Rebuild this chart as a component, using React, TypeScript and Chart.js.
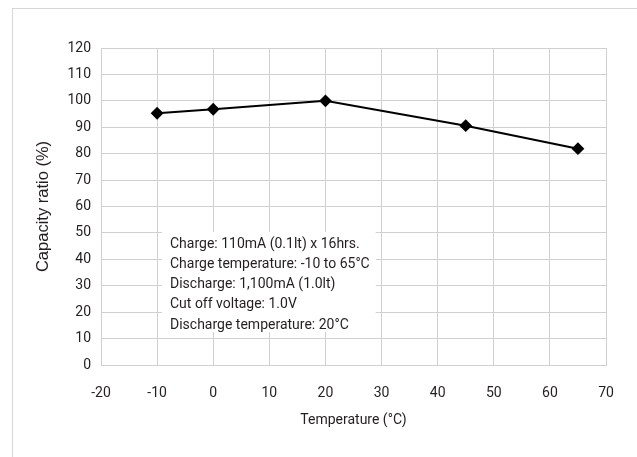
import React, { useEffect, useRef } from "react";
import { Chart, registerables } from "chart.js";

Chart.register(...registerables);

const temperatures = [-10, 0, 20, 45, 65];
const capacityRatio = [95.3, 96.8, 100, 90.6, 81.9];
const xTicks = [-20, -10, 0, 10, 20, 30, 40, 50, 60, 70];
const yTicks = [0, 10, 20, 30, 40, 50, 60, 70, 80, 90, 100, 110, 120];
const noteLines = [
  "Charge: 110mA (0.1lt) x 16hrs.",
  "Charge temperature: -10 to 65°C",
  "Discharge: 1,100mA (1.0lt)",
  "Cut off voltage: 1.0V",
  "Discharge temperature: 20°C",
];
const xTitle = "Temperature (°C)";
const yTitle = "Capacity ratio (%)";

const GRID = "#d0d0d0";
const TEXT = "#231f20";

const notePlugin = {
  id: "notePlugin",
  beforeDatasetsDraw(chart: any) {
    const ctx = chart.ctx;
    ctx.save();
    ctx.font = "14px Roboto";
    let w = 0;
    for (const l of noteLines) w = Math.max(w, ctx.measureText(l).width);
    const x0 = 162;
    const y0 = 232;
    ctx.fillStyle = "#ffffff";
    ctx.fillRect(x0, y0, w + 14, 100);
    ctx.fillStyle = TEXT;
    ctx.textBaseline = "middle";
    ctx.textAlign = "left";
    noteLines.forEach((l, i) => {
      ctx.fillText(l, 170, 244 + i * 20.3);
    });
    ctx.restore();
  },
};

export default function App() {
  const ref = useRef<HTMLCanvasElement | null>(null);
  useEffect(() => {
    if (!ref.current) return;
    const chart = new Chart(ref.current, {
      type: "scatter",
      data: {
        datasets: [
          {
            data: temperatures.map((t, i) => ({ x: t, y: capacityRatio[i] })),
            showLine: true,
            borderColor: "#000000",
            backgroundColor: "#000000",
            borderWidth: 2,
            pointStyle: "rectRot",
            pointRadius: 5,
            pointHoverRadius: 5,
            tension: 0,
          },
        ],
      },
      options: {
        responsive: false,
        animation: false,
        events: [],
        layout: { padding: { left: 26, right: 31, top: 48, bottom: 20 } },
        plugins: {
          legend: { display: false },
          tooltip: { enabled: false },
        },
        scales: {
          x: {
            type: "linear",
            min: -20,
            max: 70,
            afterBuildTicks: (s: any) => {
              s.ticks = xTicks.map((v) => ({ value: v }));
            },
            afterFit: (s: any) => {
              s.height = 72;
            },
            grid: { color: GRID, lineWidth: 1, drawTicks: false },
            border: { color: GRID, width: 1 },
            ticks: {
              color: TEXT,
              padding: 20,
              font: { family: "Roboto", size: 14 },
              maxRotation: 0,
              autoSkip: false,
            },
            title: {
              display: true,
              text: xTitle,
              color: TEXT,
              padding: 8,
              font: { family: "Roboto", size: 14 },
            },
          },
          y: {
            type: "linear",
            min: 0,
            max: 120,
            afterBuildTicks: (s: any) => {
              s.ticks = yTicks.map((v) => ({ value: v }));
            },
            afterFit: (s: any) => {
              s.width = 75;
            },
            grid: { color: GRID, lineWidth: 1, drawTicks: false },
            border: { color: GRID, width: 1 },
            ticks: {
              color: TEXT,
              padding: 10,
              font: { family: "Roboto", size: 14 },
              autoSkip: false,
            },
            title: {
              display: true,
              text: yTitle,
              color: TEXT,
              padding: 8,
              font: { family: "Liberation Sans", size: 16.5 },
            },
          },
        },
      },
      plugins: [notePlugin],
    } as any);
    return () => chart.destroy();
  }, []);

  return (
    <div style={{ position: "fixed", left: 0, top: 0, width: 637, height: 457, overflow: "hidden", background: "#fff" }}>
      <div
        style={{
          position: "absolute",
          left: 12,
          top: 8,
          width: 700,
          height: 600,
          border: "1px solid #d6d6d6",
          boxSizing: "border-box",
        }}
      />
      <canvas ref={ref} width={637} height={457} style={{ position: "absolute", left: 0, top: 0 }} />
    </div>
  );
}
